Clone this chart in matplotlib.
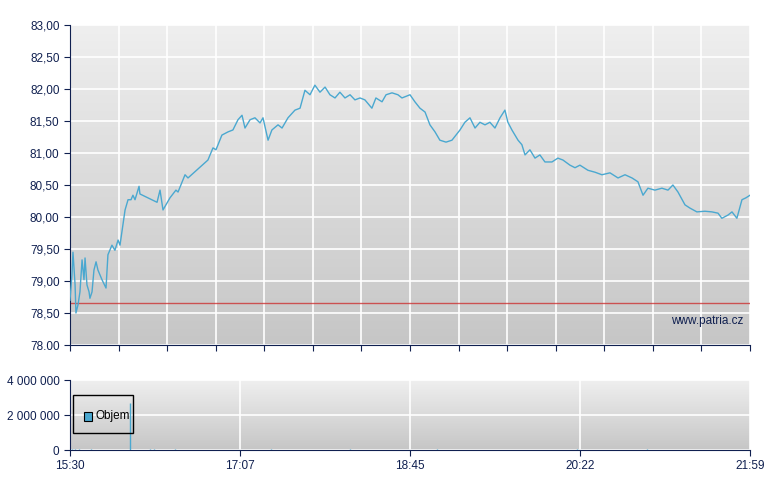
import matplotlib
matplotlib.use("Agg")
import matplotlib.pyplot as plt
import numpy as np

plt.rcParams['font.family'] = ['Liberation Sans', 'DejaVu Sans']

# minutes after 15:30
minutes = [0,1.1,1.7,2.9,3.4,4.6,5.7,6.9,8.0,8.6,9.7,10.9,11.4,12.6,13.7,14.9,16.0,18.3,20.6,21.7,
           24.0,25.7,27.5,28.6,29.7,31.5,33.2,34.9,36.0,37.2,39.5,40.0,49.8,51.5,53.2,57.2,60.6,61.8,65.8,67.5,
           78.9,81.8,83.5,86.9,90.4,93.2,96.1,98.4,100.1,103.0,105.8,108.7,110.4,113.3,115.5,119.0,121.3,124.7,128.7,131.6,
           134.4,137.3,140.1,143.0,145.9,148.7,151.6,154.4,157.3,160.2,163.0,165.9,168.7,172.7,175.0,178.5,180.8,184.2,187.6,189.9,
           194.5,197.3,200.2,203.1,205.9,208.8,211.6,215.1,218.5,220.8,223.1,225.9,228.8,231.7,234.5,237.4,240.2,243.1,246.0,248.8,
           250.5,252.8,256.3,258.5,260.3,263.1,266.0,268.8,271.7,275.7,279.1,282.0,286.0,288.9,291.7,296.3,300.3,304.3,308.9,313.5,
           317.5,321.5,324.9,327.8,330.6,334.6,338.6,342.1,344.9,347.8,351.8,354.6,358.6,363.2,367.2,370.7,372.9,376.4,378.7,381.5,
           384.4,386.7,389]
prices = [78.70,79.09,79.45,78.94,78.50,78.63,78.83,79.33,79.02,79.36,78.94,78.83,78.73,78.83,79.17,79.30,79.17,79.02,78.89,79.41,
          79.56,79.48,79.64,79.56,79.77,80.11,80.27,80.27,80.34,80.27,80.48,80.36,80.23,80.42,80.11,80.30,80.42,80.39,80.66,80.61,
          80.89,81.08,81.05,81.28,81.33,81.36,81.52,81.59,81.39,81.52,81.55,81.47,81.55,81.20,81.36,81.44,81.39,81.55,81.67,81.70,
          81.98,81.91,82.06,81.95,82.03,81.91,81.86,81.95,81.86,81.91,81.83,81.86,81.83,81.70,81.86,81.80,81.91,81.94,81.91,81.86,
          81.91,81.80,81.70,81.64,81.44,81.33,81.20,81.17,81.20,81.28,81.36,81.48,81.55,81.39,81.48,81.44,81.48,81.39,81.55,81.67,
          81.48,81.36,81.20,81.13,80.97,81.05,80.92,80.97,80.86,80.86,80.92,80.89,80.81,80.77,80.81,80.73,80.70,80.66,80.69,80.61,
          80.66,80.61,80.55,80.34,80.45,80.42,80.45,80.42,80.50,80.39,80.19,80.14,80.08,80.09,80.08,80.06,79.98,80.03,80.08,79.98,
          80.27,80.30,80.34]
ref_price = 78.66
vol_minutes = [1, 3, 5, 12, 34.3, 46, 48, 60, 115, 160, 210, 290, 330]
vol_values = [40000, 50000, 40000, 60000, 2700000, 40000, 50000, 40000, 40000, 30000, 30000, 30000, 30000]

price_ticks = [78.0, 78.5, 79.0, 79.5, 80.0, 80.5, 81.0, 81.5, 82.0, 82.5, 83.0]
price_labels = ['78.00', '78,50', '79,00', '79,50', '80,00', '80,50', '81,00', '81,50', '82,00', '82,50', '83,00']
time_labels = ['15:30', '17:07', '18:45', '20:22', '21:59']
vol_ticks = [0, 2000000, 4000000]
vol_labels = ['0', '2 000 000', '4 000 000']

navy = '#102050'
line_c = '#4aa8d0'
T = 389

fig = plt.figure(figsize=(7.8, 4.9), dpi=100)
ax = fig.add_axes([70/780, 1-345/490, 680/780, 320/490])
ax2 = fig.add_axes([70/780, 1-450/490, 680/780, 70/490])

grad = np.linspace(0, 1, 256).reshape(-1, 1)
from matplotlib.colors import LinearSegmentedColormap
cmap = LinearSegmentedColormap.from_list('g', ['#efefef', '#c6c6c6'])
for a in (ax, ax2):
    a.imshow(grad, aspect='auto', cmap=cmap, extent=[0, 1, 0, 1], transform=a.transAxes, zorder=0)
    for s in ('top', 'right'):
        a.spines[s].set_visible(False)
    for s in ('left', 'bottom'):
        a.spines[s].set_color(navy)
    a.tick_params(colors=navy, labelsize=8.5, length=4, labelcolor=navy)
    a.set_xlim(0, T)

ax.set_ylim(78, 83)
ax.set_yticks(price_ticks)
ax.set_yticklabels(price_labels)
xt = np.linspace(0, T, 15)
ax.set_xticks(xt)
ax.set_xticklabels([])
ax.grid(True, color='white', lw=1.2, zorder=1)
ax.axhline(ref_price, color='#cc3333', lw=1, alpha=0.8, zorder=2)
ax.plot(minutes, prices, color=line_c, lw=1, zorder=3)
ax.text(0.99, 0.055, 'www.patria.cz', transform=ax.transAxes, ha='right', va='bottom', color=navy, fontsize=8.5, zorder=4)

ax2.set_ylim(0, 4000000)
ax2.set_yticks(vol_ticks)
ax2.set_yticklabels(vol_labels)
ax2.set_xticks(np.linspace(0, T, 5))
ax2.set_xticklabels(time_labels)
ax2.grid(True, color='white', lw=1.2, zorder=1)
ax2.vlines(vol_minutes, 0, vol_values, color=line_c, lw=1, zorder=3)
from matplotlib.patches import Rectangle
ax2.add_patch(Rectangle((0.005, 0.24), 0.087, 0.55, transform=ax2.transAxes, fill=False, ec='black', lw=1, zorder=4))
ax2.add_patch(Rectangle((0.02, 0.41), 0.012, 0.14, transform=ax2.transAxes, fc=line_c, ec='black', lw=0.8, zorder=5))
ax2.text(0.038, 0.48, 'Objem', transform=ax2.transAxes, va='center', fontsize=8.5, color='black', zorder=5)

fig.savefig('out.png', dpi=100)
